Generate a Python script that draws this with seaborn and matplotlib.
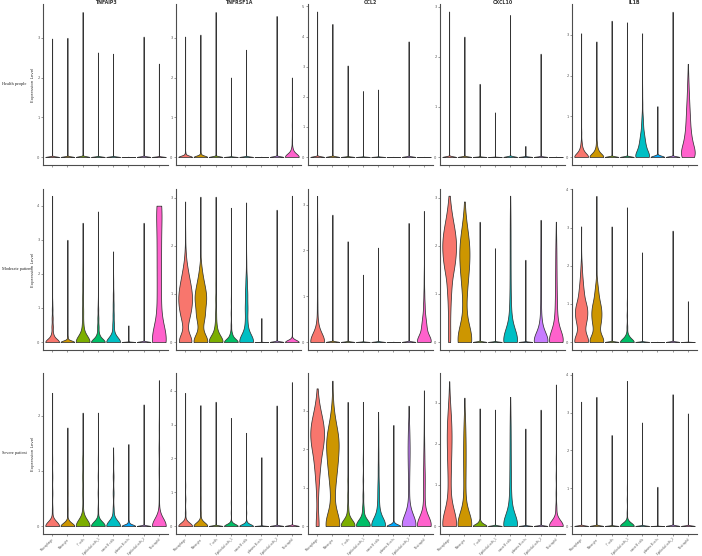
import numpy as np
import pandas as pd
import matplotlib
matplotlib.use("Agg")
import matplotlib.pyplot as plt
import seaborn as sns

cells = ["Macrophage", "Monocyte", "T cells", "Epithelial cells_1",
         "naive B cells", "plasma B cells", "Epithelial cells_2", "Neutrophil"]
genes = ["TNFAIP3", "TNFRSF1A", "CCL2", "CXCL10", "IL1B"]
conditions = ["Health people", "Moderate patient", "Severe patient"]
colors = ["#F8766D", "#CD9600", "#7CAE00", "#00BE67",
          "#00BFC4", "#00A9FF", "#C77CFF", "#FF61CC"]

# one entry per cell type:
#   a number  -> almost all cells at 0, a single cell at that value (thin line)
#   a list    -> (expression, number of cells) pairs
healthy_tnfaip3 = [2.98, 3.0, 3.65, 2.63, 2.6, 0, 3.03, 2.35]
healthy_tnfrsf1a = [
    [(0, 600), (0.1, 30), (0.3, 4), (3.03, 1)],
    [(0, 600), (0.1, 30), (0.3, 4), (3.08, 1)],
    3.65, 2.0, 2.7, 0, 3.55,
    [(0, 200), (0.08, 40), (0.2, 20), (0.4, 6), (0.8, 3), (1.2, 2), (1.6, 2), (2.0, 1)],
]
healthy_ccl2 = [4.83, 4.42, 3.04, 2.19, 2.24, 0, 3.84, 0]
healthy_cxcl10 = [2.9, 2.4, 1.46, 0.89, 2.83, [(0, 200), (0.22, 3)], 2.06, 0]
healthy_il1b = [
    [(0, 150), (0.1, 40), (0.2, 25), (0.35, 12), (0.6, 4), (3.04, 1)],
    [(0, 150), (0.1, 35), (0.2, 20), (0.35, 10), (0.6, 3), (2.84, 1)],
    3.35, 3.31,
    [(0, 120), (0.15, 55), (0.3, 40), (0.45, 30), (0.6, 22), (0.8, 15), (1.0, 10),
     (1.3, 5), (1.6, 2), (3.04, 1)],
    [(0, 300), (1.25, 2)],
    3.57,
    [(0, 60), (0.15, 45), (0.35, 35), (0.6, 30), (0.9, 24), (1.2, 18), (1.5, 12),
     (1.8, 7), (2.05, 3), (2.29, 1)],
]

moderate_tnfaip3 = [
    [(0, 400), (0.2, 60), (0.45, 40), (0.7, 30), (0.95, 20), (1.15, 10), (4.29, 1)],
    [(0, 500), (0.15, 30), (0.4, 10), (0.7, 5), (3.0, 1)],
    [(0, 300), (0.2, 50), (0.5, 30), (0.9, 25), (1.3, 20), (1.7, 15), (2.1, 10), (2.3, 4), (3.5, 1)],
    [(0, 300), (0.2, 50), (0.45, 30), (0.7, 22), (0.95, 15), (1.15, 6), (3.83, 1)],
    [(0, 300), (0.2, 60), (0.5, 35), (0.8, 25), (1.1, 20), (1.4, 15), (1.75, 6), (2.66, 1)],
    [(0, 500), (0.49, 2)],
    3.5,
    [(0, 200), (0.2, 60), (0.5, 30), (0.8, 25), (1.1, 30), (1.5, 40), (2.0, 45),
     (2.5, 45), (3.0, 45), (3.5, 50), (4.0, 70)],
]
moderate_tnfrsf1a = [
    [(0, 120), (0.1, 30), (0.4, 40), (0.6, 70), (0.8, 90), (1.0, 90), (1.2, 70),
     (1.4, 45), (1.6, 25), (1.85, 10), (2.2, 3), (2.92, 1)],
    [(0, 130), (0.1, 30), (0.4, 40), (0.6, 70), (0.85, 85), (1.05, 70), (1.25, 45),
     (1.45, 20), (1.6, 8), (2.0, 2), (3.02, 1)],
    [(0, 200), (0.15, 60), (0.35, 25), (0.6, 15), (0.9, 12), (1.2, 8), (1.43, 4), (3.02, 1)],
    [(0, 250), (0.15, 40), (0.35, 12), (0.6, 8), (0.85, 4), (2.79, 1)],
    [(0, 200), (0.15, 50), (0.4, 35), (0.7, 40), (1.0, 35), (1.3, 20), (1.64, 6), (2.9, 1)],
    0.5, 2.75,
    [(0, 800), (0.05, 40), (0.5, 1), (1.0, 1), (1.5, 1), (2.0, 1), (2.5, 1), (3.04, 1)],
]
moderate_ccl2 = [
    [(0, 250), (0.15, 60), (0.4, 25), (0.8, 12), (1.2, 10), (1.6, 8), (2.0, 7),
     (2.4, 5), (2.6, 3), (3.19, 1)],
    2.78, 2.2, 1.47, 2.06, 0, 2.6,
    [(0, 150), (0.15, 60), (0.35, 50), (0.55, 30), (0.8, 18), (1.05, 10), (1.3, 5),
     (1.5, 3), (2.0, 1), (2.86, 1)],
]
moderate_cxcl10 = [
    [(0, 12), (0.3, 10), (0.7, 15), (1.1, 25), (1.5, 45), (1.8, 60), (2.1, 65),
     (2.4, 45), (2.7, 18), (2.9, 5), (3.04, 1)],
    [(0, 90), (0.2, 30), (0.5, 12), (0.8, 12), (1.1, 20), (1.4, 30), (1.7, 40),
     (2.0, 42), (2.3, 25), (2.6, 8), (2.92, 1)],
    2.5, 1.95,
    [(0, 200), (0.15, 80), (0.4, 40), (0.7, 22), (1.0, 15), (1.3, 12), (1.6, 11),
     (1.9, 10), (2.2, 10), (2.5, 9), (2.8, 6), (3.04, 1)],
    1.71,
    [(0, 200), (0.15, 70), (0.4, 30), (0.7, 12), (1.0, 10), (1.3, 10), (1.6, 10),
     (1.9, 9), (2.2, 5), (2.54, 1)],
    [(0, 160), (0.15, 70), (0.4, 40), (0.7, 25), (1.0, 20), (1.3, 16), (1.6, 14),
     (1.9, 12), (2.2, 7), (2.5, 1)],
]
moderate_il1b = [
    [(0, 80), (0.1, 30), (0.4, 30), (0.6, 45), (0.8, 50), (1.0, 45), (1.3, 30),
     (1.6, 18), (1.9, 8), (2.1, 3), (3.03, 1)],
    [(0, 80), (0.1, 30), (0.4, 30), (0.6, 40), (0.8, 42), (1.0, 35), (1.25, 20),
     (1.45, 10), (1.63, 4), (3.83, 1)],
    3.03,
    [(0, 250), (0.15, 45), (0.4, 15), (0.7, 10), (1.0, 5), (3.53, 1)],
    2.35, 0, 2.92, 1.07,
]

severe_tnfaip3 = [
    [(0, 300), (0.08, 40), (0.3, 15), (0.6, 12), (0.9, 10), (1.2, 5), (2.42, 1)],
    [(0, 300), (0.08, 40), (0.3, 12), (0.6, 10), (0.93, 4), (1.79, 1)],
    [(0, 300), (0.08, 40), (0.3, 15), (0.6, 18), (0.9, 20), (1.2, 18), (1.58, 6), (2.06, 1)],
    [(0, 300), (0.08, 40), (0.3, 14), (0.6, 12), (0.9, 10), (1.2, 5), (2.06, 1)],
    [(0, 250), (0.08, 45), (0.3, 20), (0.6, 18), (0.9, 16), (1.2, 8), (1.43, 1)],
    [(0, 400), (0.08, 30), (0.3, 8), (0.5, 4), (1.49, 1)],
    2.21,
    [(0, 300), (0.08, 40), (0.3, 10), (0.6, 8), (1.0, 12), (1.4, 14), (1.8, 8), (2.2, 2), (2.65, 1)],
]
severe_tnfrsf1a = [
    [(0, 300), (0.12, 45), (0.4, 15), (0.8, 12), (1.2, 6), (3.94, 1)],
    [(0, 300), (0.12, 45), (0.4, 15), (0.8, 12), (1.1, 8), (1.37, 4), (3.58, 1)],
    3.68,
    [(0, 400), (0.1, 40), (0.4, 10), (0.7, 6), (1.0, 3), (3.2, 1)],
    [(0, 400), (0.1, 40), (0.4, 10), (0.7, 6), (1.0, 3), (2.76, 1)],
    2.04, 3.57, 4.26,
]
severe_ccl2 = [
    [(0, 25), (0.4, 5), (0.8, 10), (1.2, 20), (1.6, 35), (2.0, 50), (2.3, 60),
     (2.6, 60), (2.9, 35), (3.2, 12), (3.4, 4), (3.58, 1)],
    [(0, 90), (0.15, 25), (0.5, 12), (0.9, 20), (1.3, 35), (1.7, 50), (2.1, 55),
     (2.4, 40), (2.7, 20), (3.0, 8), (3.3, 3), (3.78, 1)],
    [(0, 200), (0.15, 60), (0.45, 20), (0.8, 12), (1.2, 10), (1.7, 6), (2.3, 1), (3.23, 1)],
    [(0, 200), (0.15, 70), (0.45, 25), (0.8, 14), (1.2, 10), (1.7, 6), (2.3, 1), (3.23, 1)],
    [(0, 200), (0.15, 70), (0.45, 35), (0.8, 22), (1.1, 18), (1.5, 14), (1.9, 10),
     (2.3, 6), (2.6, 3), (2.97, 1)],
    [(0, 400), (0.08, 40), (0.3, 10), (0.6, 4), (2.63, 1)],
    [(0, 220), (0.15, 70), (0.45, 22), (0.8, 12), (1.2, 16), (1.6, 24), (2.0, 30),
     (2.4, 22), (2.7, 8), (3.13, 1)],
    [(0, 200), (0.15, 70), (0.45, 28), (0.8, 18), (1.1, 20), (1.4, 22), (1.8, 17),
     (2.2, 10), (2.6, 5), (3.0, 2), (3.53, 1)],
]
severe_cxcl10 = [
    [(0, 120), (0.15, 50), (0.45, 20), (0.8, 16), (1.2, 20), (1.6, 26), (2.0, 32),
     (2.4, 34), (2.8, 18), (3.1, 5), (3.52, 1)],
    [(0, 120), (0.15, 50), (0.45, 18), (0.8, 14), (1.2, 17), (1.6, 19), (2.0, 19),
     (2.4, 14), (2.7, 5), (3.12, 1)],
    [(0, 300), (0.1, 40), (0.3, 6), (2.86, 1)],
    2.83,
    [(0, 180), (0.15, 70), (0.45, 35), (0.8, 24), (1.2, 20), (1.6, 17), (2.0, 15),
     (2.4, 13), (2.8, 8), (3.14, 2)],
    2.37, 2.83,
    [(0, 250), (0.15, 60), (0.45, 20), (0.8, 12), (1.2, 10), (1.6, 6), (2.2, 1), (3.44, 1)],
]
severe_il1b = [
    3.29, 3.42, 2.41,
    [(0, 300), (0.1, 45), (0.35, 12), (0.7, 8), (1.0, 4), (3.84, 1)],
    2.74, 1.04, 3.49, 2.98,
]

# y axis upper limits of each panel, per condition
ymax_healthy = [3.85, 3.85, 5.08, 3.05, 3.76]
ymax_moderate = [4.49, 3.18, 3.34, 3.18, 4.01]
ymax_severe = [2.78, 4.53, 3.98, 3.72, 4.05]

panels = [
    [healthy_tnfaip3, healthy_tnfrsf1a, healthy_ccl2, healthy_cxcl10, healthy_il1b],
    [moderate_tnfaip3, moderate_tnfrsf1a, moderate_ccl2, moderate_cxcl10, moderate_il1b],
    [severe_tnfaip3, severe_tnfrsf1a, severe_ccl2, severe_cxcl10, severe_il1b],
]
ymaxes = [ymax_healthy, ymax_moderate, ymax_severe]


def to_frame(violins):
    rows = []
    for cell, v in zip(cells, violins):
        if not isinstance(v, list):
            v = [(0, 2000), (v if v > 0 else 0.01, 1)]
        vals = np.repeat([p[0] for p in v], [p[1] for p in v])
        rows.append(pd.DataFrame({"cell": cell, "expr": vals}))
    return pd.concat(rows, ignore_index=True)


sns.set_style("white")
plt.rcParams["font.family"] = ["DejaVu Sans"]
W, H = 702, 556
fig = plt.figure(figsize=(W / 100, H / 100), dpi=100)

lefts = [43, 176, 308, 440, 572]
tops = [4, 189, 373]
axw, axh = 125, 161
axis_col = "#4d4d4d"

for r in range(3):
    for c in range(5):
        ax = fig.add_axes([lefts[c] / W, 1 - (tops[r] + axh) / H, axw / W, axh / H])
        df = to_frame(panels[r][c])
        sns.violinplot(data=df, x="cell", y="expr", hue="cell", order=cells,
                       hue_order=cells, palette=colors, saturation=1,
                       density_norm="width", cut=0, inner=None, width=0.9,
                       gridsize=400, linewidth=0.55, linecolor="#333333",
                       legend=False, ax=ax)
        ym = ymaxes[r][c]
        ax.set_ylim(-0.052 * ym, ym)
        ax.set_xlim(-0.6, 7.6)
        ax.set_yticks(range(int(ym) + 1))
        ax.set_xlabel("")
        ax.set_ylabel("")
        for s in ["top", "right"]:
            ax.spines[s].set_visible(False)
        for s in ["left", "bottom"]:
            ax.spines[s].set_color(axis_col)
            ax.spines[s].set_linewidth(0.8)
        ax.tick_params(length=1.5, width=0.4, pad=1, labelsize=2.6,
                       colors=axis_col, labelcolor="#555555")
        ax.tick_params(axis="both", which="both", bottom=True, left=True)
        if r < 2:
            ax.set_xticklabels([])
        else:
            ax.set_xticks(range(len(cells)))
            ax.set_xticklabels(cells, rotation=45, ha="right",
                               rotation_mode="anchor", fontsize=2.0)
        if c == 0:
            ax.set_ylabel("Expression Level", fontsize=3.0, labelpad=1.5,
                          color="#333333")
        if r == 0:
            fig.text((lefts[c] + axw / 2) / W, 1 - 2.5 / H, genes[c],
                     ha="center", va="center", fontsize=3.4, fontweight="bold",
                     color="#333333")

for r, name in enumerate(conditions):
    fig.text(2 / W, 1 - (tops[r] + 80) / H, name, ha="left", va="center",
             fontsize=3.2, family=["Liberation Serif"], color="#222222")

fig.savefig("out.png", dpi=100)
